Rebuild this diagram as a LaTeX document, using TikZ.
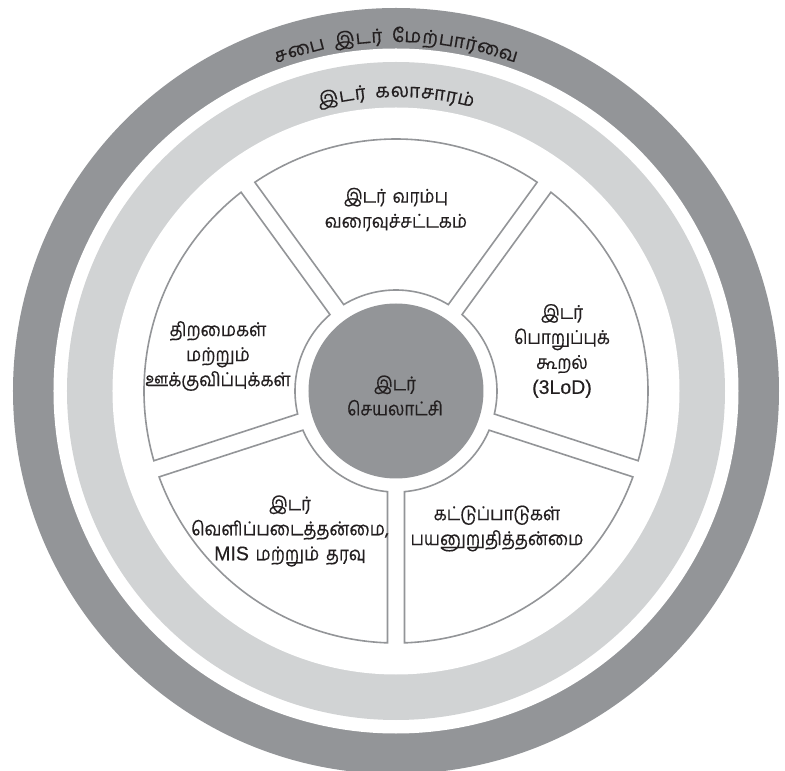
\documentclass[tikz,border=0pt]{standalone}
\usepackage{fontspec}
\newfontfamily\tamil[Script=Tamil,WordSpace=1.6,FakeBold=0.4]{Hind Madurai}
\newfontfamily\latin[FakeBold=0.3]{Liberation Sans}
\usetikzlibrary{calc}
\definecolor{ringdark}{HTML}{939598}
\definecolor{ringlight}{HTML}{D1D3D4}
\definecolor{segline}{HTML}{939598}
\definecolor{txt}{HTML}{231F20}
\newcommand\bodyfont{\tamil\fontsize{17}{22.3}\selectfont}
\newcommand\ringfont{\tamil\fontsize{19}{20}\selectfont}
\newcommand\latinpart[1]{{\latin\fontsize{19.5}{22.3}\selectfont\scalebox{1}[0.9]{#1}}}
\newdimen\clw
\newdimen\arctot
\newcommand\wgap{\hspace*{8pt}}
\makeatletter
% measure cluster widths (outside the picture), with a small pad
\newcommand\MeasureArc[2]{%
  \global\arctot=0pt
  \foreach \cl [count=\ci] in {#2}{%
    \settowidth{\clw}{\ringfont\cl}%
    \global\advance\clw by 0.6pt
    \expandafter\xdef\csname arcw@#1@\ci\endcsname{\the\clw}%
    \global\advance\arctot by \clw}%
  \expandafter\xdef\csname arctot@#1\endcsname{\the\arctot}}
% #1 radius, #2 key, #3 clusters
\newcommand\ArcText[3]{%
  \pgfmathsetmacro\arcaccinit{-0.5*\csname arctot@#2\endcsname}%
  \global\let\arcacc\arcaccinit
  \foreach \cl [count=\ci] in {#3}{%
    \edef\thisw{\csname arcw@#2@\ci\endcsname}%
    \pgfmathsetmacro\myang{90-(\arcacc+0.5*\thisw)/#1*57.29578}%
    \pgfmathsetmacro\myrot{\myang-90}%
    \node[rotate=\myrot, anchor=base, inner sep=0pt, outer sep=0pt, text depth=0pt, text=txt, font=\ringfont] (#2\ci) at (\myang:#1) {\cl};
    \pgfmathsetmacro\newacc{\arcacc+\thisw}%
    \global\let\arcacc\newacc
  }}
\makeatother
\tikzset{
  seg/.style={draw=segline, line width=1.6pt, fill=white, line join=miter},
  lbl/.style={align=center, font=\bodyfont, text=txt, inner sep=0pt, yscale=1.12, transform shape}
}
\begin{document}
\MeasureArc{outer}{ச,பை,\wgap,இ,ட,ர்,\wgap,மே,ற்,பா,ர்,வை}%
\MeasureArc{inner}{இ,ட,ர்,\wgap,க,லா,சா,ர,ம்}%
\begin{tikzpicture}[x=1pt,y=1pt]
\useasboundingbox (-396,-380) rectangle (389,391);
\fill[white] (-396,-380) rectangle (389,391);
\fill[ringdark] (0,0) circle[radius=383];
\fill[white] (0,0) circle[radius=342.5];
\fill[ringlight] (0,0) circle[radius=329];
\fill[white] (0,0) circle[radius=283.5];
% sectors
\def\Ro{252}\def\Ri{101}\def\hg{8.5}
\pgfmathsetmacro\dao{asin(\hg/\Ro)}
\pgfmathsetmacro\dai{asin(\hg/\Ri)}
\foreach \th in {90,18,-54,-126,162}{
  \pgfmathsetmacro\aone{\th+36-\dao}
  \pgfmathsetmacro\atwo{\th-36+\dao}
  \pgfmathsetmacro\bone{\th-36+\dai}
  \pgfmathsetmacro\btwo{\th+36-\dai}
  \draw[seg] (\aone:\Ro) arc[start angle=\aone, end angle=\atwo, radius=\Ro]
    -- (\bone:\Ri) arc[start angle=\bone, end angle=\btwo, radius=\Ri] -- cycle;
}
\fill[ringdark] (0,0) circle[radius=87.5];
% ring texts
\ArcText{349}{outer}{ச,பை,\wgap,இ,ட,ர்,\wgap,மே,ற்,பா,ர்,வை}
\ArcText{294}{inner}{இ,ட,ர்,\wgap,க,லா,சா,ர,ம்}
% labels
\begin{scope}[shift={(-1,-4.5)}]\node[lbl] (centre) {இடர்\\செயலாட்சி};\end{scope}
\begin{scope}[shift={(0,181.5)}]\node[lbl] (top) {இடர் வரம்பு\\வரைவுச்சட்டகம்};\end{scope}
\begin{scope}[shift={(166,40)}]\node[lbl] (upright) {இடர்\\பொறுப்புக்\\கூறல்\\\latinpart{(3LoD)}};\end{scope}
\begin{scope}[shift={(-178,35)}]\node[lbl] (upleft) {திறமைகள்\\மற்றும்\\ஊக்குவிப்புக்கள்};\end{scope}
\begin{scope}[shift={(-106,-140)}]\node[lbl] (lowleft) {இடர்\\வெளிப்படைத்தன்மை,\\\latinpart{MIS} மற்றும் தரவு};\end{scope}
\begin{scope}[shift={(101,-137.5)}]\node[lbl] (lowright) {கட்டுப்பாடுகள்\\பயனுறுதித்தன்மை};\end{scope}
\end{tikzpicture}
\end{document}
